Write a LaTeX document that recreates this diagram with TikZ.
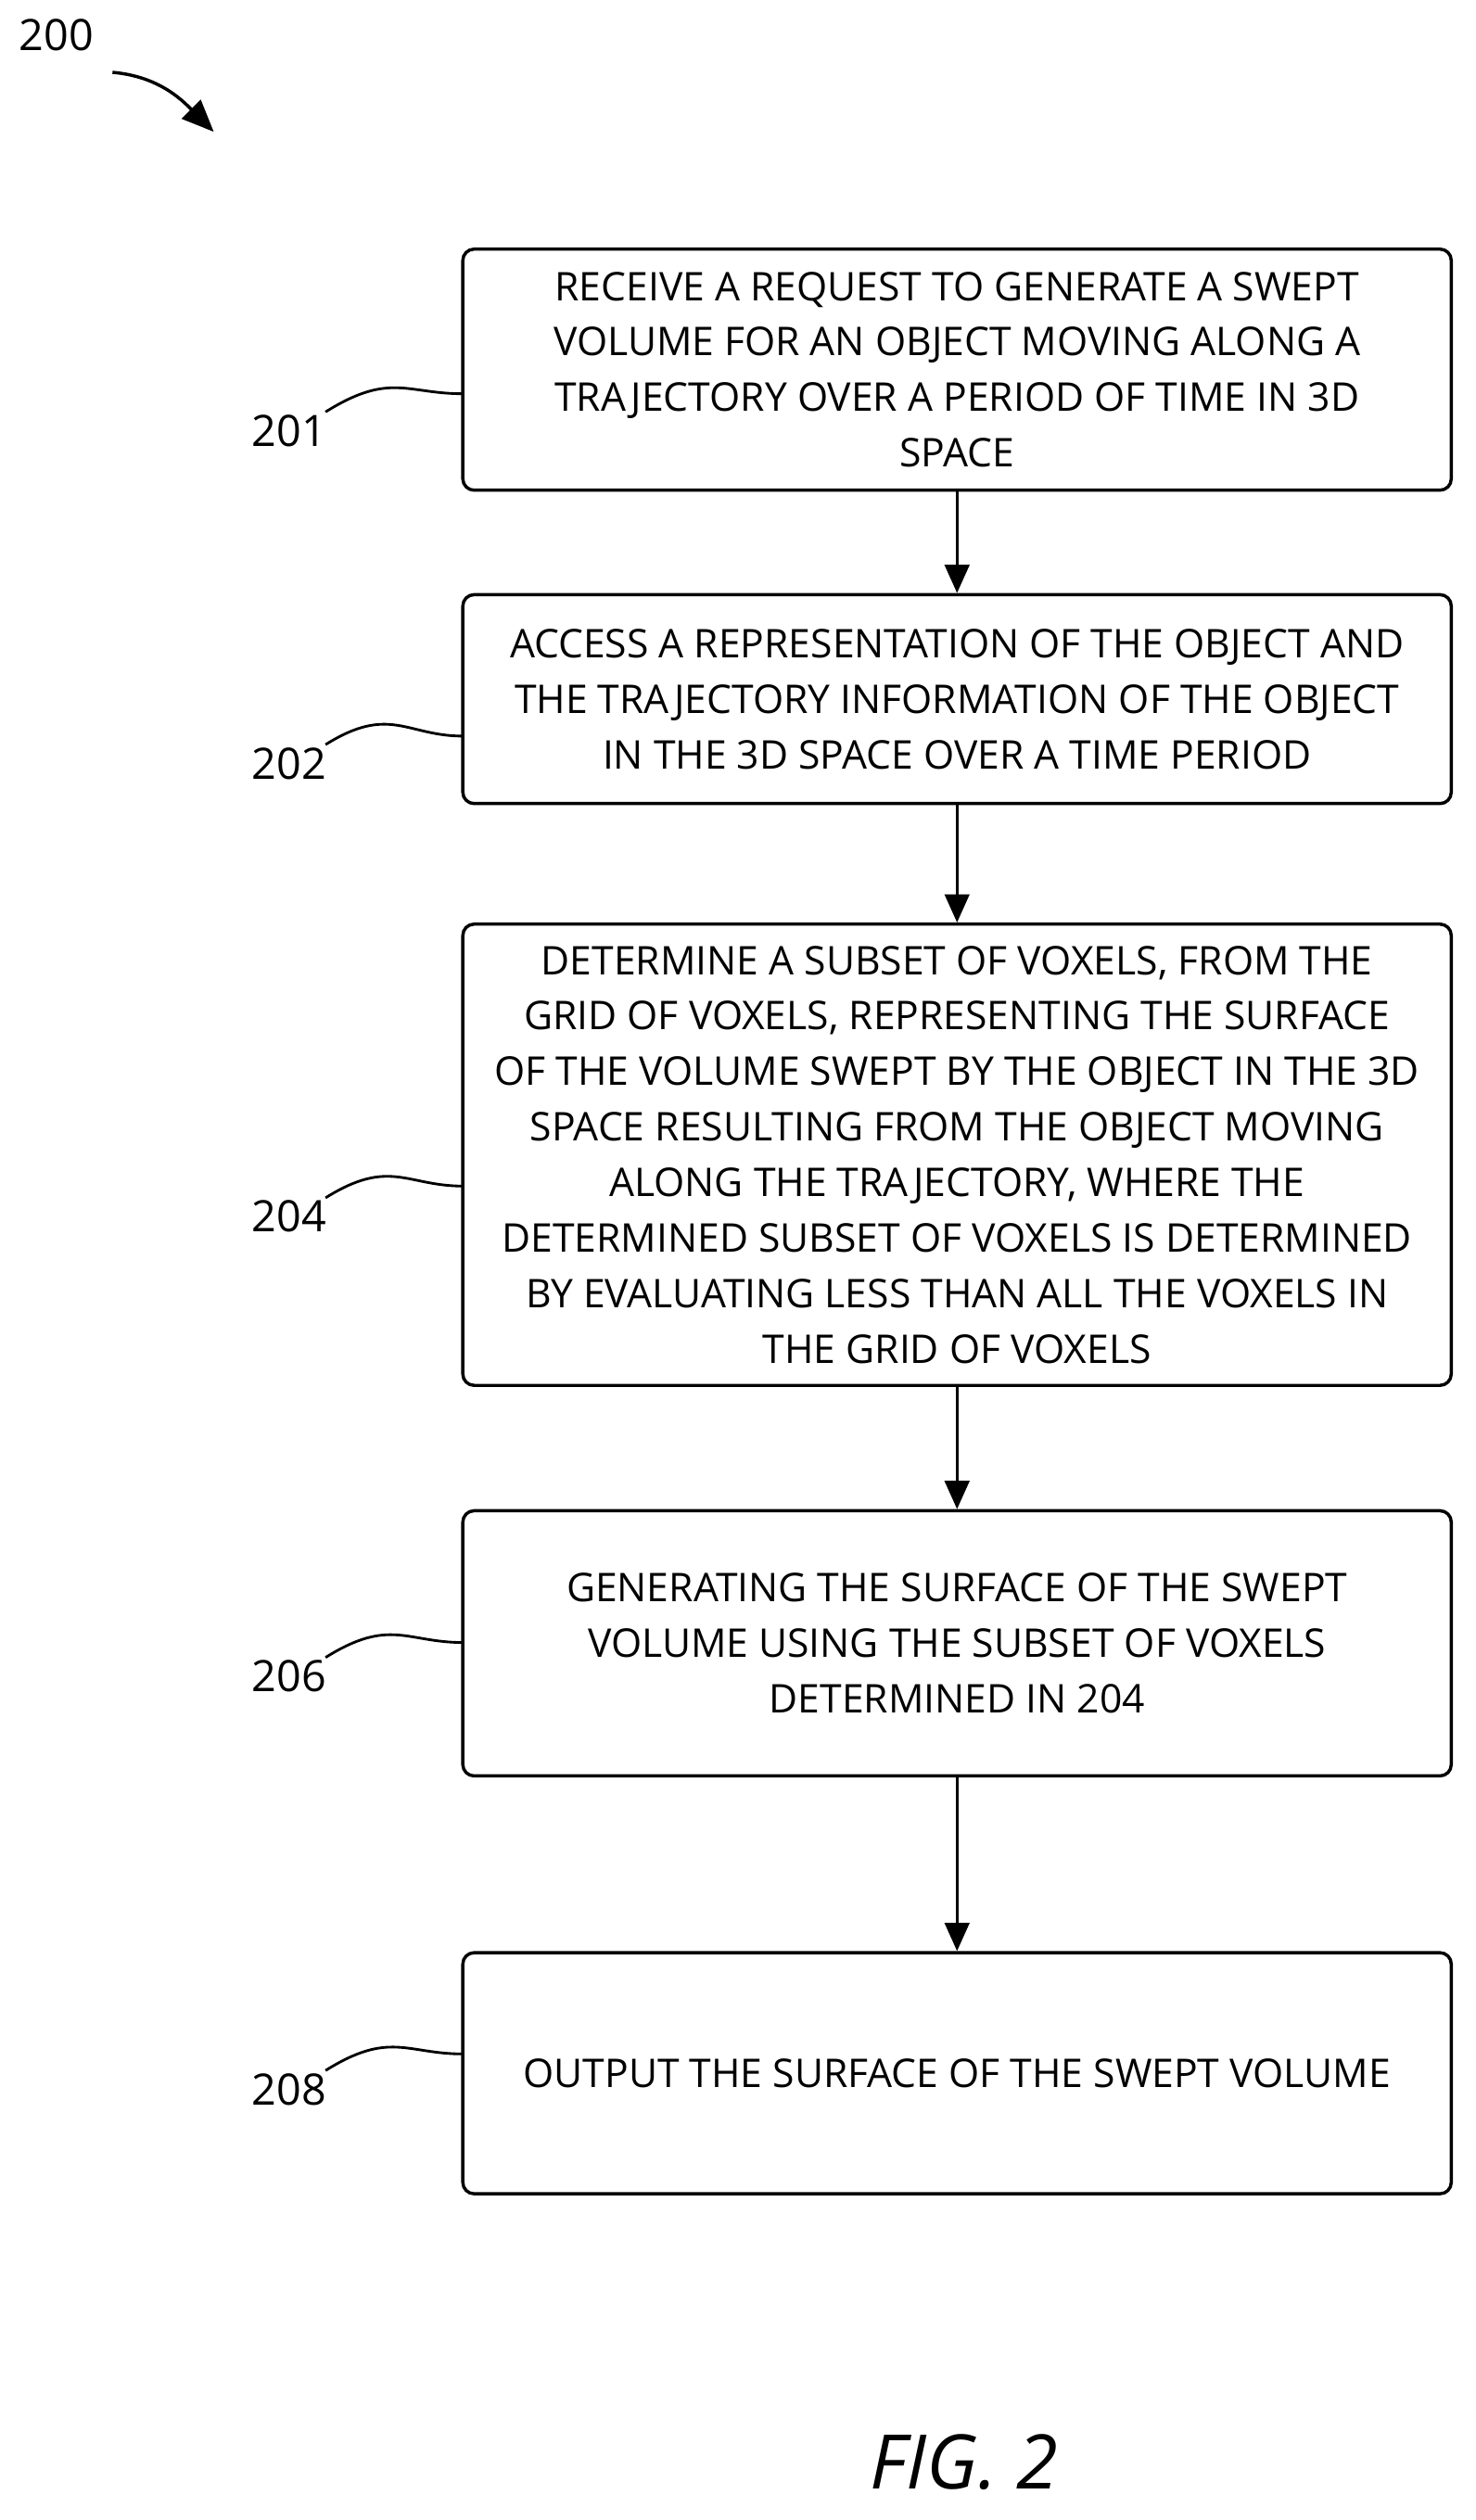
\documentclass[tikz,border=0pt]{standalone}
\usepackage{fontspec}
\setmainfont{Open Sans}
\usetikzlibrary{positioning,arrows.meta}
\tikzset{
  box/.style={draw,line width=1.7pt,rounded corners=6pt,minimum width=18.45cm,align=center,
    font=\fontsize{21}{29.5}\selectfont,inner sep=0pt},
  ref/.style={font=\fontsize{23}{26}\selectfont},
  flow/.style={line width=1.7pt,-{Triangle[length=15pt,width=13pt]}},
  wiggle/.style={line width=1.4pt}
}
\begin{document}
\begin{tikzpicture}[x=0.03cm,y=-0.03cm]
\useasboundingbox (0,0) rectangle (918,1568);
% steps
\node[box,minimum height=4.5cm] (s201) at (595.5,230) {RECEIVE A REQUEST TO GENERATE A SWEPT\\VOLUME FOR AN OBJECT MOVING ALONG A\\TRAJECTORY OVER A PERIOD OF TIME IN 3D\\SPACE};
\node[box,minimum height=3.9cm] (s202) at (595.5,435) {ACCESS A REPRESENTATION OF THE OBJECT AND\\THE TRAJECTORY INFORMATION OF THE OBJECT\\IN THE 3D SPACE OVER A TIME PERIOD};
\node[box,minimum height=8.61cm] (s204) at (595.5,718.5) {DETERMINE A SUBSET OF VOXELS, FROM THE\\GRID OF VOXELS, REPRESENTING THE SURFACE\\OF THE VOLUME SWEPT BY THE OBJECT IN THE 3D\\SPACE RESULTING FROM THE OBJECT MOVING\\ALONG THE TRAJECTORY, WHERE THE\\DETERMINED SUBSET OF VOXELS IS DETERMINED\\BY EVALUATING LESS THAN ALL THE VOXELS IN\\THE GRID OF VOXELS};
\node[box,minimum height=4.95cm] (s206) at (595.5,1022.5) {GENERATING THE SURFACE OF THE SWEPT\\VOLUME USING THE SUBSET OF VOXELS\\DETERMINED IN 204};
\node[box,minimum height=4.5cm] (s208) at (595.5,1290) {OUTPUT THE SURFACE OF THE SWEPT VOLUME};
\draw[flow] (s201) -- (s202);
\draw[flow] (s202) -- (s204);
\draw[flow] (s204) -- (s206);
\draw[flow] (s206) -- (s208);
% reference numbers
\foreach \n/\y/\t in {201/268/245, 202/475/458, 204/757/738, 206/1043/1022, 208/1300/1278}{
  \node[ref] (r\n) at (180,\y) {\n};
  \coordinate (e\n) at (288,\t);
  \draw[wiggle] ([xshift=-4pt,yshift=-2pt]r\n.north east) .. controls ++(40,-25) and ++(-35,0) .. (e\n);
}
\node[ref] (r200) at (35,22) {200};
\coordinate (h200) at (133,82);
\draw[line width=1.7pt,-{Triangle[length=17pt,width=14pt]}] (70,45) to[out=-5,in=135] (h200);
\node[font=\fontsize{40}{44}\selectfont\itshape] (fig) at (600,1532) {FIG. 2};
\end{tikzpicture}
\end{document}
